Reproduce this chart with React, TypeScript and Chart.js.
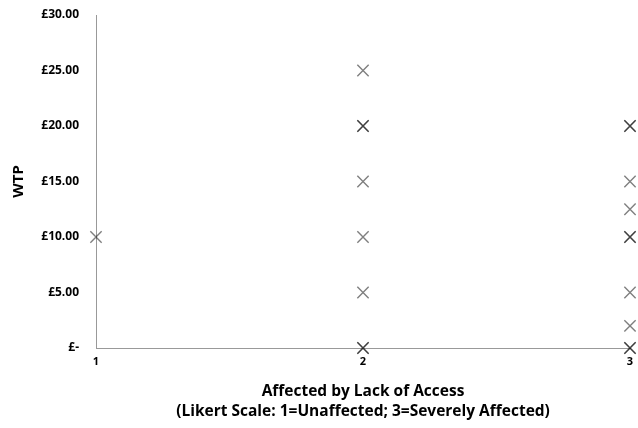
import React, { useEffect, useRef } from "react";
import { Chart, registerables } from "chart.js";

Chart.register(...registerables);

const affectedLevels = [1, 2, 2, 2, 2, 2, 2, 2, 2, 3, 3, 3, 3, 3, 3, 3, 3, 3, 3];
const wtpValues = [10, 25, 20, 20, 15, 10, 5, 0, 0, 20, 20, 15, 12.5, 10, 10, 5, 2, 0, 0];
const xTickLabels = ["1", "2", "3"];
const yTickLabels = ["£-", "£5.00", "£10.00", "£15.00", "£20.00", "£25.00", "£30.00"];

export default function App() {
  const ref = useRef<HTMLCanvasElement | null>(null);
  useEffect(() => {
    if (!ref.current) return;
    const family = "'Open Sans', 'Liberation Sans', sans-serif";
    const chart = new Chart(ref.current, {
      type: "scatter",
      data: {
        datasets: [
          {
            label: "WTP",
            data: affectedLevels.map((x, i) => ({ x, y: wtpValues[i] })),
            pointStyle: "crossRot",
            pointRadius: 8,
            pointHoverRadius: 8,
            borderWidth: 1.4,
            borderColor: "rgba(0,0,0,0.5)",
            backgroundColor: "rgba(0,0,0,0.5)",
            clip: false,
          },
        ],
      },
      options: {
        animation: false,
        responsive: false,
        maintainAspectRatio: false,
        layout: { autoPadding: false, padding: { top: 15, right: 8, bottom: 8, left: 8 } },
        plugins: { legend: { display: false }, tooltip: { enabled: false } },
        scales: {
          x: {
            type: "linear",
            min: 1,
            max: 3,
            afterFit: (scale: any) => {
              scale.height = 72;
              scale.paddingLeft = 0;
              scale.paddingRight = 0;
            },
            grid: { display: false, drawTicks: true, tickLength: 5, color: "#888" },
            border: { color: "#999", width: 1 },
            ticks: {
              stepSize: 1,
              color: "#000",
              font: { family, size: 11, weight: "bold" },
              padding: 2,
              maxRotation: 0,
              callback: (v) => xTickLabels[Number(v) - 1] ?? "",
            },
            title: {
              display: true,
              text: ["Affected by Lack of Access", "(Likert Scale: 1=Unaffected; 3=Severely Affected)"],
              color: "#000",
              font: { family, size: 15.5, weight: "bold", lineHeight: 1.25 },
              padding: { top: 8, bottom: -1 },
            },
          },
          y: {
            min: 0,
            max: 30,
            afterFit: (scale: any) => {
              scale.width = 88;
              scale.paddingTop = 0;
              scale.paddingBottom = 0;
            },
            grid: { display: false, drawTicks: true, tickLength: 5, color: "#888" },
            border: { color: "#999", width: 1 },
            ticks: {
              stepSize: 5,
              color: "#000",
              font: { family, size: 12, weight: "bold" },
              padding: 12,
              callback: (v) => yTickLabels[Number(v) / 5] ?? "",
            },
            title: {
              display: true,
              text: "WTP",
              color: "#000",
              font: { family, size: 15, weight: "bold" },
              padding: { top: 2, bottom: 0 },
            },
          },
        },
      },
    });
    return () => chart.destroy();
  }, []);
  return (
    <div style={{ width: 638, height: 428 }}>
      <style>{"html,body{margin:0;padding:0;}"}</style>
      <canvas ref={ref} width={638} height={428} style={{ width: 638, height: 428, display: "block" }} />
    </div>
  );
}
